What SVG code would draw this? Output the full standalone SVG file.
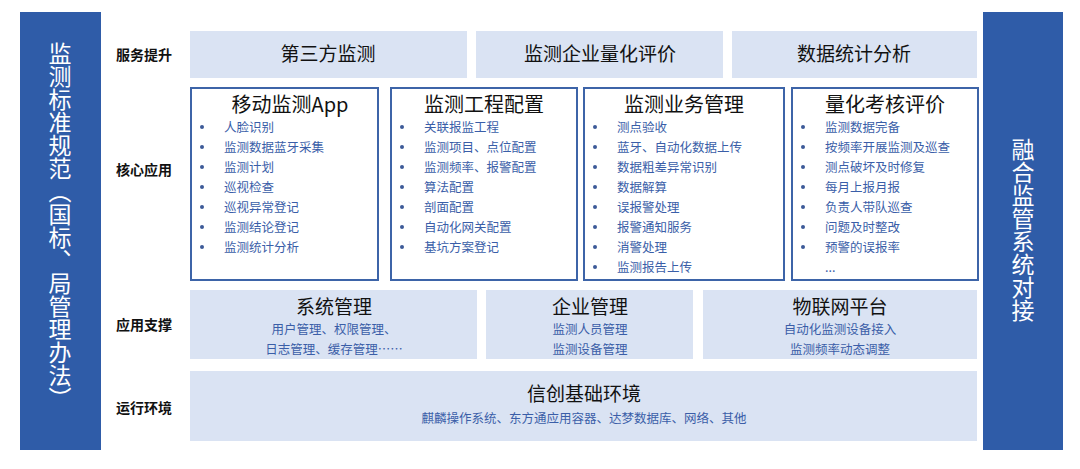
<svg xmlns="http://www.w3.org/2000/svg" width="1080" height="469" viewBox="0 0 1080 469">
<style>
text{font-family:"Noto Sans CJK SC","Noto Sans",sans-serif}
.bar{fill:#2f5ca8}
.vt{fill:#fff;font-size:23px;writing-mode:vertical-rl;text-anchor:middle}
.lab{font-size:14px;font-weight:bold;fill:#111;text-anchor:middle}
.lb{fill:#dae3f3}
.cb{fill:#fff;stroke:#3d64a8;stroke-width:2}
.h{font-size:19px;fill:#111;text-anchor:middle}
.h2{font-size:20px;fill:#111;text-anchor:middle}
.it{font-size:12.5px;fill:#3a5ea8}
.sub{font-size:12.5px;fill:#3a5ea8;text-anchor:middle}
.d{fill:#3d5a98}
</style>
<rect width="1080" height="469" fill="#fff"/>
<g id="left"><rect class="bar" x="20" y="12" width="81" height="438"/><text class="vt" x="60" y="226">监测标准规范（国标、局管理办法）</text></g>
<g id="right"><rect class="bar" x="983" y="12" width="80" height="438"/><text class="vt" x="1023" y="230">融合监管系统对接</text></g>
<g id="labels">
<text class="lab" x="144" y="60">服务提升</text>
<text class="lab" x="144" y="175">核心应用</text>
<text class="lab" x="144" y="330">应用支撑</text>
<text class="lab" x="144" y="413">运行环境</text>
</g>
<g id="service">
<rect class="lb" x="190" y="31" width="277" height="47"/><text class="h" x="328" y="61">第三方监测</text>
<rect class="lb" x="476" y="31" width="247" height="47"/><text class="h" x="600" y="61">监测企业量化评价</text>
<rect class="lb" x="732" y="31" width="245" height="47"/><text class="h" x="854" y="61">数据统计分析</text>
</g>
<g id="core1"><rect class="cb" x="191" y="88" width="187" height="192"/><text class="h2" x="290" y="112">移动监测App</text>
<g class="it"><text x="224" y="132">人脸识别</text><text x="224" y="152">监测数据蓝牙采集</text><text x="224" y="172">监测计划</text><text x="224" y="192">巡视检查</text><text x="224" y="212">巡视异常登记</text><text x="224" y="232">监测结论登记</text><text x="224" y="252">监测统计分析</text></g>
<g class="d"><circle cx="202" cy="127" r="2"/><circle cx="202" cy="147" r="2"/><circle cx="202" cy="167" r="2"/><circle cx="202" cy="187" r="2"/><circle cx="202" cy="207" r="2"/><circle cx="202" cy="227" r="2"/><circle cx="202" cy="247" r="2"/></g></g>
<g id="core2"><rect class="cb" x="391" y="88" width="186" height="192"/><text class="h2" x="484" y="112">监测工程配置</text>
<g class="it"><text x="424" y="132">关联报监工程</text><text x="424" y="152">监测项目、点位配置</text><text x="424" y="172">监测频率、报警配置</text><text x="424" y="192">算法配置</text><text x="424" y="212">剖面配置</text><text x="424" y="232">自动化网关配置</text><text x="424" y="252">基坑方案登记</text></g>
<g class="d"><circle cx="402" cy="127" r="2"/><circle cx="402" cy="147" r="2"/><circle cx="402" cy="167" r="2"/><circle cx="402" cy="187" r="2"/><circle cx="402" cy="207" r="2"/><circle cx="402" cy="227" r="2"/><circle cx="402" cy="247" r="2"/></g></g>
<g id="core3"><rect class="cb" x="584" y="88" width="200" height="192"/><text class="h2" x="684" y="112">监测业务管理</text>
<g class="it"><text x="617" y="132">测点验收</text><text x="617" y="152">蓝牙、自动化数据上传</text><text x="617" y="172">数据粗差异常识别</text><text x="617" y="192">数据解算</text><text x="617" y="212">误报警处理</text><text x="617" y="232">报警通知服务</text><text x="617" y="252">消警处理</text><text x="617" y="272">监测报告上传</text></g>
<g class="d"><circle cx="595" cy="127" r="2"/><circle cx="595" cy="147" r="2"/><circle cx="595" cy="167" r="2"/><circle cx="595" cy="187" r="2"/><circle cx="595" cy="207" r="2"/><circle cx="595" cy="227" r="2"/><circle cx="595" cy="247" r="2"/><circle cx="595" cy="267" r="2"/></g></g>
<g id="core4"><rect class="cb" x="792" y="88" width="186" height="192"/><text class="h2" x="885" y="112">量化考核评价</text>
<g class="it"><text x="825" y="132">监测数据完备</text><text x="825" y="152">按频率开展监测及巡查</text><text x="825" y="172">测点破坏及时修复</text><text x="825" y="192">每月上报月报</text><text x="825" y="212">负责人带队巡查</text><text x="825" y="232">问题及时整改</text><text x="825" y="252">预警的误报率</text><text x="825" y="272">...</text></g>
<g class="d"><circle cx="803" cy="127" r="2"/><circle cx="803" cy="147" r="2"/><circle cx="803" cy="167" r="2"/><circle cx="803" cy="187" r="2"/><circle cx="803" cy="207" r="2"/><circle cx="803" cy="227" r="2"/><circle cx="803" cy="247" r="2"/></g></g>
<g id="support">
<rect class="lb" x="190" y="290" width="287" height="69"/><text class="h" x="334" y="314">系统管理</text><text class="sub" x="334" y="334">用户管理、权限管理、</text><text class="sub" x="334" y="354">日志管理、缓存管理……</text>
<rect class="lb" x="486" y="290" width="207" height="69"/><text class="h" x="590" y="314">企业管理</text><text class="sub" x="590" y="334">监测人员管理</text><text class="sub" x="590" y="354">监测设备管理</text>
<rect class="lb" x="703" y="290" width="274" height="69"/><text class="h" x="840" y="314">物联网平台</text><text class="sub" x="840" y="334">自动化监测设备接入</text><text class="sub" x="840" y="354">监测频率动态调整</text>
</g>
<g id="runtime"><rect class="lb" x="190" y="371" width="787" height="70"/><text class="h" x="584" y="401">信创基础环境</text><text class="sub" x="584" y="423">麒麟操作系统、东方通应用容器、达梦数据库、网络、其他</text></g>
<g id="connectors"/>
</svg>
